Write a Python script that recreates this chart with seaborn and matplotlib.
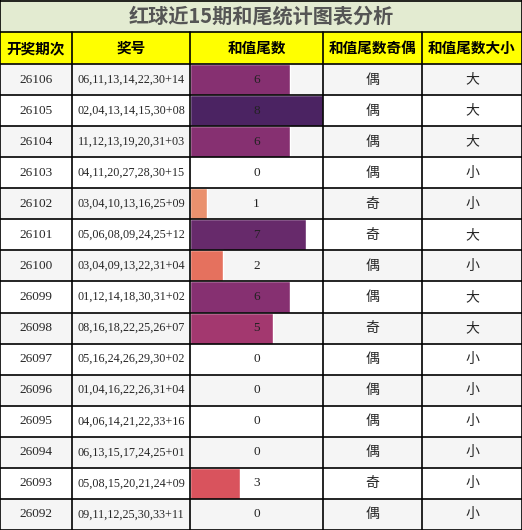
import matplotlib
matplotlib.use("Agg")
import matplotlib.pyplot as plt
import seaborn as sns
import numpy as np

periods = ["26106", "26105", "26104", "26103", "26102", "26101", "26100", "26099",
           "26098", "26097", "26096", "26095", "26094", "26093", "26092"]
numbers = ["06,11,13,14,22,30+14", "02,04,13,14,15,30+08", "11,12,13,19,20,31+03",
           "04,11,20,27,28,30+15", "03,04,10,13,16,25+09", "05,06,08,09,24,25+12",
           "03,04,09,13,22,31+04", "01,12,14,18,30,31+02", "08,16,18,22,25,26+07",
           "05,16,24,26,29,30+02", "01,04,16,22,26,31+04", "04,06,14,21,22,33+16",
           "06,13,15,17,24,25+01", "05,08,15,20,21,24+09", "09,11,12,25,30,33+11"]
tails = [6, 8, 6, 0, 1, 7, 2, 6, 5, 0, 0, 0, 0, 3, 0]
parity = ["偶", "偶", "偶", "偶", "奇", "奇", "偶", "偶", "奇", "偶", "偶", "偶", "偶", "奇", "偶"]
size = ["大", "大", "大", "小", "小", "大", "小", "大", "大", "小", "小", "小", "小", "小", "小"]
headers = ["开奖期次", "奖号", "和值尾数", "和值尾数奇偶", "和值尾数大小"]
title = "红球近15期和尾统计图表分析"

sns.set_theme(style="white")
plt.rcParams['font.family'] = ['Noto Sans CJK SC', 'DejaVu Sans']
cjk = ['Noto Sans CJK SC', 'DejaVu Sans']
serif = ['Liberation Serif', 'DejaVu Serif']

W, H = 522, 530
fig = plt.figure(figsize=(W / 100, H / 100), dpi=100)
ax = fig.add_axes([0, 0, 1, 1])
ax.set_xlim(0, W)
ax.set_ylim(H, 0)
ax.axis("off")

cols = [0, 72, 190, 323, 422, 522]
title_h, head_h = 32, 32
top = title_h + head_h
rh = (H - top) / len(periods)

# title band
ax.add_patch(plt.Rectangle((0, 0), W, title_h, color="#e3ebd1", zorder=0))
ax.text(W / 2, title_h / 2, title, ha="center", va="center", fontsize=14.5,
        fontweight="bold", color="#555555", family=cjk)
# header
ax.add_patch(plt.Rectangle((0, title_h), W, head_h, color="#ffff00", zorder=0))
for i, h in enumerate(headers):
    ax.text((cols[i] + cols[i + 1]) / 2, title_h + head_h / 2, h, ha="center",
            va="center", fontsize=10.5, fontweight="bold", color="black", family=cjk)

# row backgrounds
ys = top + rh * np.arange(len(periods)) + rh / 2
for r, y in enumerate(ys):
    bg = "#f5f5f5" if r % 2 == 0 else "white"
    ax.add_patch(plt.Rectangle((0, y - rh / 2), W, rh, color=bg, zorder=0))

# bars
cmap = sns.color_palette("flare", as_cmap=True)
bw = cols[3] - cols[2]
vals = np.array(tails)
ax.barh(ys, vals / 8 * bw, left=cols[2], height=rh,
        color=[cmap(v / 8) for v in vals], zorder=1)

for r, y in enumerate(ys):
    ax.text((cols[0] + cols[1]) / 2, y, periods[r], ha="center", va="center", fontsize=9.5, family=serif)
    ax.text((cols[1] + cols[2]) / 2, y, numbers[r], ha="center", va="center", fontsize=8.7, family=serif)
    ax.text((cols[2] + cols[3]) / 2, y, str(tails[r]), ha="center", va="center", fontsize=9.5,
            family=serif, color="#222222", zorder=3)
    ax.text((cols[3] + cols[4]) / 2, y, parity[r], ha="center", va="center", fontsize=10, family=cjk)
    ax.text((cols[4] + cols[5]) / 2, y, size[r], ha="center", va="center", fontsize=10, family=cjk)

# grid lines
for x in cols:
    ax.plot([x, x], [title_h, H], color="black", lw=1.2, zorder=4)
for x in [0, W]:
    ax.plot([x, x], [0, title_h], color="black", lw=1.2, zorder=4)
for y in [0.5, title_h, top] + list(top + rh * np.arange(1, len(periods) + 1)):
    ax.plot([0, W], [y, y], color="black", lw=1.2, zorder=4)

fig.savefig("out.png", dpi=100)
